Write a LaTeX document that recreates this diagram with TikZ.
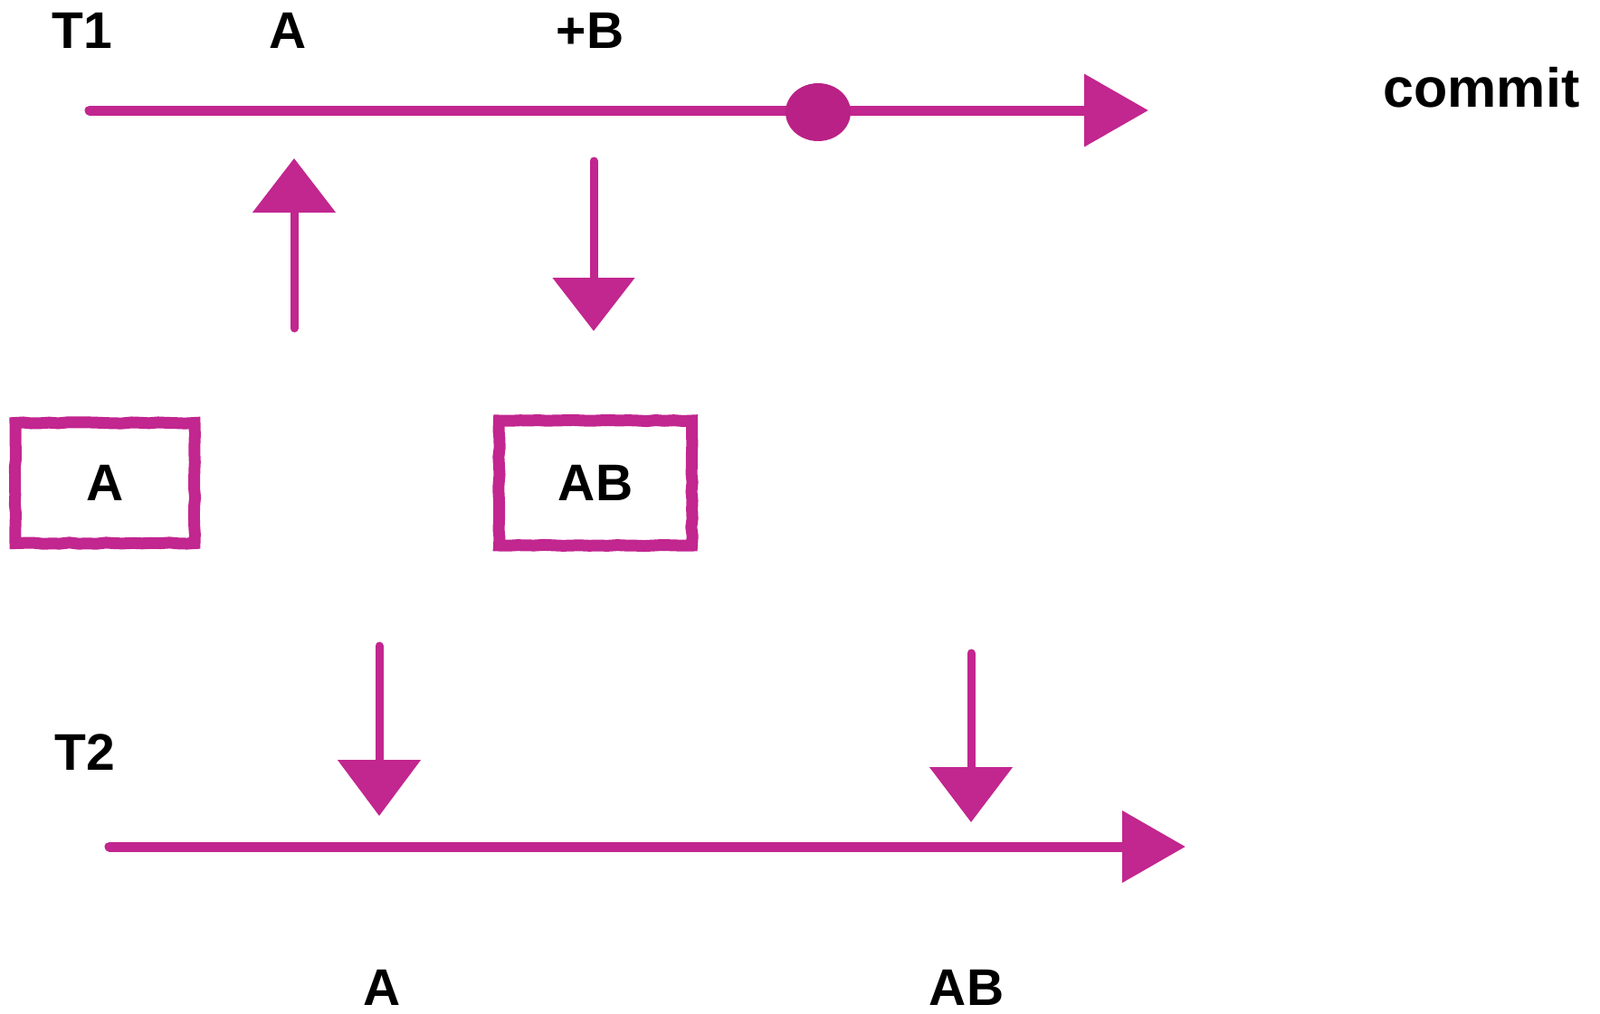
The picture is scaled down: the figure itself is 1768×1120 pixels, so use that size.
\documentclass[tikz,border=0pt]{standalone}
\usepackage{fontspec}
\setmainfont{Liberation Sans}
\usetikzlibrary{arrows.meta,shapes.geometric,decorations.pathmorphing}
\definecolor{mag}{RGB}{194,38,143}
\definecolor{magdot}{RGB}{186,33,134}
\tikzset{
  lbl/.style={anchor=base, inner sep=0pt, font=\fontsize{57}{60}\selectfont\bfseries, text=black},
  timeline/.style={draw=mag, line width=11pt, line cap=round, -{Triangle[length=71pt,width=78pt]}},
  varrow/.style={draw=mag, line width=9pt, line cap=round, -{Triangle[length=60pt,width=90pt]}},
  statebox/.style={draw=mag, line width=13pt, minimum width=198pt, minimum height=133pt,
     inner sep=0pt, font=\fontsize{57}{60}\selectfont\bfseries, text=black,
     decorate, decoration={random steps, segment length=10pt, amplitude=0.7pt}},
}
\begin{document}
\begin{tikzpicture}[x=1pt,y=-1pt]
\useasboundingbox[fill=white] (0,0) rectangle (1768,1120);

% labels
\node[lbl] (t1) at (91,53) {T1};
\node[lbl] (la) at (318,53) {A};
\node[lbl] (lb) at (652,53) {+B};
\node[lbl, font=\fontsize{61}{64}\selectfont\bfseries] (commit) at (1637,118) {commit};
\node[lbl] (t2) at (94,851) {T2};
\node[lbl] (ba) at (422,1111) {A};
\node[lbl] (bab) at (1068,1111) {AB};

% T1 timeline
\coordinate (t1s) at (99,122);
\coordinate (t1e) at (1269,122);
\draw[timeline] (t1s) -- (t1e);
\node[ellipse, fill=magdot, minimum width=72pt, minimum height=64pt, inner sep=0pt] (dot) at (904,124) {};

% T2 timeline
\coordinate (t2s) at (121,936);
\coordinate (t2e) at (1310,936);
\draw[timeline, -{Triangle[length=70pt,width=77pt]}] (t2s) -- (t2e);

% vertical arrows
\coordinate (u1s) at (325,363);
\coordinate (u1e) at (325,175);
\draw[varrow] (u1s) -- (u1e);
\coordinate (d1s) at (656,178);
\coordinate (d1e) at (656,366);
\draw[varrow, -{Triangle[length=59pt,width=89pt]}] (d1s) -- (d1e);
\coordinate (d2s) at (419,714);
\coordinate (d2e) at (419,902);
\draw[varrow, -{Triangle[length=62pt,width=90pt]}] (d2s) -- (d2e);
\coordinate (d3s) at (1073,722);
\coordinate (d3e) at (1073,909);
\draw[varrow, -{Triangle[length=61pt,width=90pt]}] (d3s) -- (d3e);

% boxes
\node[statebox] (boxa) at (116,534) {A};
\node[statebox, minimum width=213pt, minimum height=138pt] (boxab) at (658,534) {AB};
\end{tikzpicture}
\end{document}
